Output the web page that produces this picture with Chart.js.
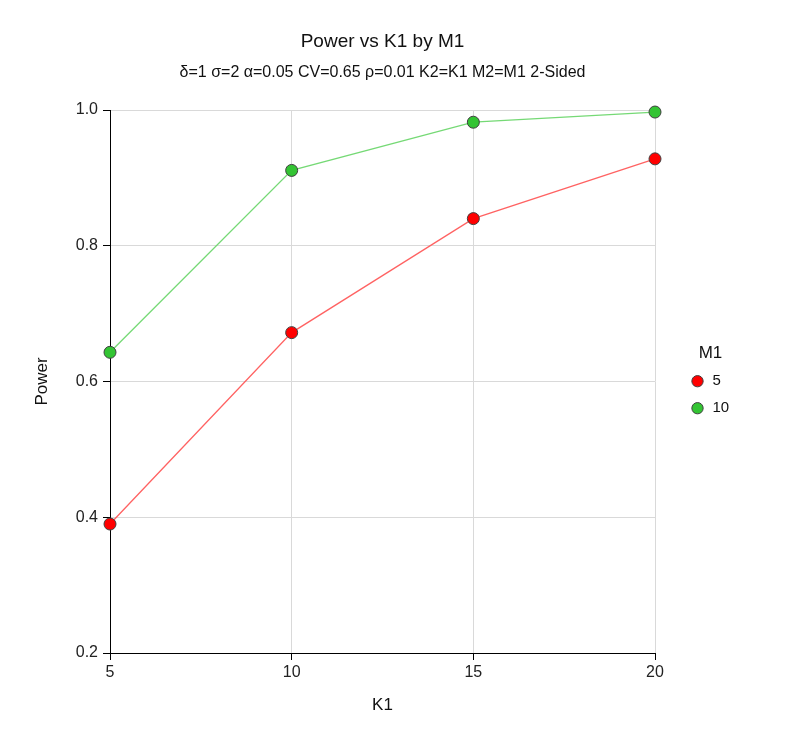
<!DOCTYPE html>
<html>
<head>
<meta charset="utf-8">
<script src="https://cdn.jsdelivr.net/npm/chart.js@4.4.0/dist/chart.umd.min.js"></script>
<style>
  body { margin: 0; background: #fff; }
  #wrap { width: 803px; height: 740px; }
</style>
</head>
<body>
<div id="wrap"><canvas id="grafico" width="803" height="740"></canvas></div>
<script>
// dados
const valoresK1 = [5, 10, 15, 20];
const powerM1_5 = [0.390, 0.672, 0.840, 0.928];
const powerM1_10 = [0.643, 0.911, 0.982, 0.997];
const nomesSeries = ["5", "10"];
const ticksY = [0.2, 0.4, 0.6, 0.8, 1.0];
const ticksX = [5, 10, 15, 20];

const fonte = "'Liberation Sans', Arial, sans-serif";

const pontos = (ys) => valoresK1.map((x, i) => ({ x: x, y: ys[i] }));

// largura fixa da legenda e deslocamento para a direita
const moverLegenda = {
    id: "moverLegenda",
    beforeLayout(chart) {
        const leg = chart.legend;
        if (leg && !leg._fitFixo) {
            const fitOriginal = leg.fit.bind(leg);
            leg.fit = function () {
                fitOriginal();
                this.width = 65;
            };
            leg._fitFixo = true;
        }
    },
    afterLayout(chart) {
        chart.legend.left += 23;
        chart.legend.right += 23;
    }
};

const serie = (label, ys, corPonto, corLinha) => ({
    label: label,
    data: pontos(ys),
    showLine: true,
    clip: false,
    borderColor: corLinha,
    borderWidth: 1.3,
    backgroundColor: corPonto,
    pointBackgroundColor: corPonto,
    pointBorderColor: "#404040",
    pointBorderWidth: 1,
    pointRadius: 6,
    pointHoverRadius: 6
});

const ctx = document.getElementById("grafico");
new Chart(ctx, {
    type: "scatter",
    data: {
        datasets: [
            serie(nomesSeries[0], powerM1_5, "#ff0000", "rgba(255, 90, 90, 0.95)"),
            serie(nomesSeries[1], powerM1_10, "#33c433", "rgba(110, 215, 110, 0.95)")
        ]
    },
    options: {
        responsive: false,
        animation: false,
        layout: { padding: { left: 0, right: 83, top: 0, bottom: 0 } },
        plugins: {
            title: {
                display: true,
                fullSize: false,
                text: "Power vs K1 by M1",
                color: "#111",
                font: { family: fonte, size: 19, weight: "normal" },
                padding: { top: 30.6, bottom: 6 }
            },
            subtitle: {
                display: true,
                fullSize: false,
                text: "δ=1 σ=2 α=0.05 CV=0.65 ρ=0.01 K2=K1 M2=M1 2-Sided",
                color: "#111",
                font: { family: fonte, size: 16, weight: "normal" },
                padding: { top: 4, bottom: 27.4 }
            },
            legend: {
                position: "right",
                fullSize: false,
                title: {
                    display: true,
                    text: "M1",
                    color: "#111",
                    position: "center",
                    font: { family: fonte, size: 17 },
                    padding: { top: 10, bottom: -4 }
                },
                labels: {
                    usePointStyle: true,
                    pointStyle: "circle",
                    boxWidth: 15,
                    boxHeight: 8,
                    padding: 12,
                    color: "#111",
                    font: { family: fonte, size: 15 },
                    generateLabels: (chart) => chart.data.datasets.map((ds, i) => ({
                        text: ds.label,
                        fillStyle: ds.pointBackgroundColor,
                        strokeStyle: ds.pointBorderColor,
                        lineWidth: 1,
                        pointStyle: "circle",
                        datasetIndex: i
                    }))
                }
            },
            tooltip: { enabled: false }
        },
        scales: {
            x: {
                type: "linear",
                min: 5,
                max: 20,
                afterBuildTicks: (scale) => { scale.ticks = ticksX.map(v => ({ value: v })); },
                afterFit: (scale) => { scale.height = 87; },
                ticks: {
                    color: "#222",
                    font: { family: fonte, size: 16 },
                    padding: 3
                },
                grid: { color: "#d9d9d9", tickColor: "#000", tickLength: 7 },
                border: { color: "#000", width: 1 },
                title: {
                    display: true,
                    text: "K1",
                    color: "#111",
                    font: { family: fonte, size: 17 },
                    padding: { top: 24, bottom: 24 }
                }
            },
            y: {
                min: 0.2,
                max: 1.0,
                afterBuildTicks: (scale) => { scale.ticks = ticksY.map(v => ({ value: v })); },
                afterFit: (scale) => { scale.width = 110; },
                ticks: {
                    color: "#222",
                    font: { family: fonte, size: 16 },
                    padding: 5,
                    callback: (v) => v.toFixed(1)
                },
                grid: { color: "#d9d9d9", tickColor: "#000", tickLength: 7 },
                border: { color: "#000", width: 1 },
                title: {
                    display: true,
                    text: "Power",
                    color: "#111",
                    font: { family: fonte, size: 17 },
                    padding: { top: 32, bottom: 32 }
                }
            }
        }
    },
    plugins: [moverLegenda]
});
</script>
</body>
</html>
